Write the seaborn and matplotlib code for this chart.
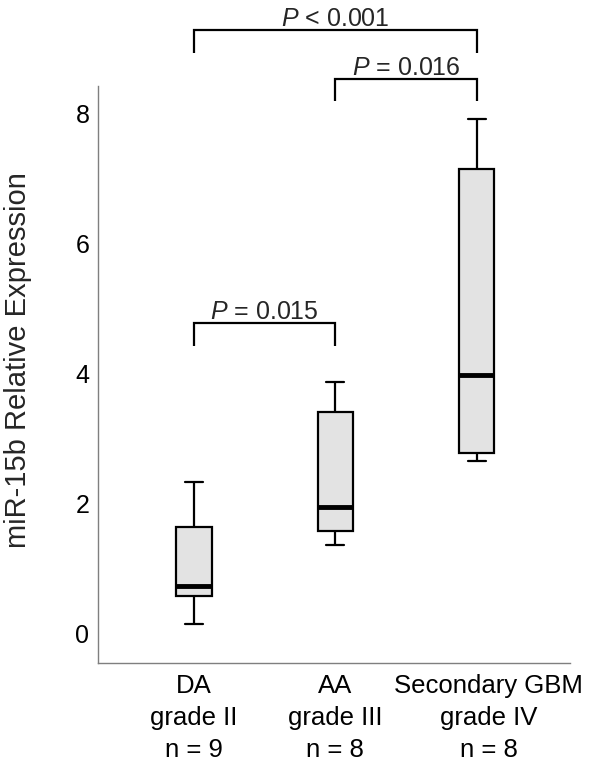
# miR-15b expression by glioma grade - box plot with significance brackets

import numpy as np
import pandas as pd
import matplotlib
matplotlib.use("Agg")
import matplotlib.pyplot as plt
import matplotlib.transforms as mtransforms
import seaborn as sns

# groups and five-number summaries
groups = ["DA\ngrade II\nn = 9", "AA\ngrade III\nn = 8", "Secondary GBM\ngrade IV\nn = 8"]
whisker_low = [0.14, 1.35, 2.65]
q1 = [0.57, 1.58, 2.78]
median = [0.73, 1.94, 3.97]
q3 = [1.64, 3.40, 7.14]
whisker_high = [2.32, 3.87, 7.92]

# significance brackets: (left group, right group, bar height, leg end, label)
brackets = [
    (0, 1, 4.77, 4.42, "$P$ = 0.015"),
    (1, 2, 8.53, 8.19, "$P$ = 0.016"),
    (0, 2, 9.29, 8.93, "$P$ < 0.001"),
]

# long table, five points per group give exactly these quartiles
rows = []
for i, g in enumerate(groups):
    for v in [whisker_low[i], q1[i], median[i], q3[i], whisker_high[i]]:
        rows.append({"group": g, "value": v})
df = pd.DataFrame(rows)

sns.set_style("white")
plt.rcParams["font.family"] = ["Liberation Sans", "DejaVu Sans"]
plt.rcParams["mathtext.fontset"] = "custom"
plt.rcParams["mathtext.it"] = "Liberation Sans:italic"
plt.rcParams["mathtext.rm"] = "Liberation Sans"

fig = plt.figure(figsize=(6, 7.63), dpi=100)
ax = fig.add_axes([0.163, 0.131, 0.787, 0.756])

sns.boxplot(data=df, x="group", y="value", ax=ax, order=groups,
            width=0.25, color="#e3e3e3", saturation=1, linecolor="black",
            linewidth=1.6, whis=np.inf,
            medianprops=dict(linewidth=3.5, color="black"))

# brackets
for a, b, top, leg, label in brackets:
    ax.plot([a, a, b, b], [leg, top, top, leg], color="black", lw=1.6,
            clip_on=False, solid_capstyle="butt", solid_joinstyle="miter")
    ax.text((a + b) / 2, top + 0.06, label, ha="center", va="baseline",
            fontsize=18, clip_on=False)

ax.set_xlim(-0.68, 2.66)
ax.set_ylim(-0.46, 8.42)
ax.set_yticks([0, 2, 4, 6, 8])
ax.set_xlabel("")
ax.set_ylabel("miR-15b Relative Expression", fontsize=21)
ax.yaxis.set_label_coords(-0.14, 0.526)

for s in ["top", "right"]:
    ax.spines[s].set_visible(False)
for s in ["left", "bottom"]:
    ax.spines[s].set_color("#7f7f7f")
    ax.spines[s].set_linewidth(1.0)

ax.tick_params(axis="both", which="both", direction="out", length=4,
               width=1, color="#7f7f7f", labelcolor="black")
ax.tick_params(axis="y", labelsize=18, pad=2)
ax.tick_params(axis="x", labelsize=18.5, pad=4)
for t in ax.get_xticklabels():
    t.set_linespacing(1.42)

# the last group label sits a little right of its tick in the original
last = ax.get_xticklabels()[-1]
last.set_transform(last.get_transform()
                   + mtransforms.ScaledTranslation(0.12, 0, fig.dpi_scale_trans))

fig.savefig("out.png", dpi=100, facecolor="white")
